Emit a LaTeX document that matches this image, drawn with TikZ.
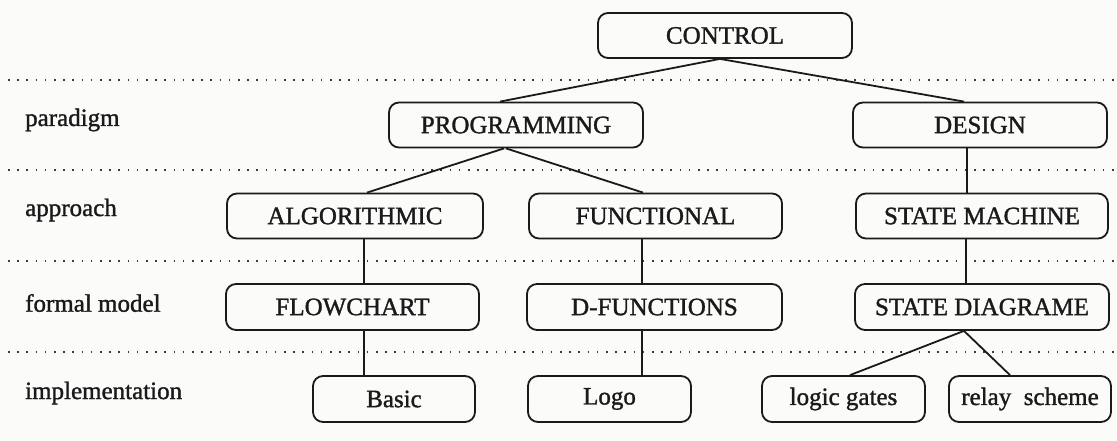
\documentclass[tikz,border=0pt]{standalone}
\usepackage{fontspec}
\setmainfont{Liberation Serif}
\newfontfamily\inkfont{Liberation Serif}[FakeBold=1.3]
\usetikzlibrary{calc}
\definecolor{ink}{HTML}{1A1A1A}
\definecolor{paper}{HTML}{FBFBFA}
\definecolor{dots}{HTML}{3A3A3A}
\tikzset{
  box/.style={draw=ink, text=ink, rounded corners=10pt, line width=1.8pt,
    minimum height=45pt, inner sep=0pt, font=\inkfont\fontsize{25}{30}\selectfont},
  link/.style={draw=ink, line width=1.8pt},
  level/.style={anchor=west, text=ink, inner sep=0pt, font=\inkfont\fontsize{25}{30}\selectfont},
  divider/.style={draw=dots, line width=1.6pt, dash pattern=on 1.6pt off 7.6pt}
}
\begin{document}
\begin{tikzpicture}[x=1pt,y=-1pt]
  \fill[paper] (0,0) rectangle (1117,441);
  \useasboundingbox (0,0) rectangle (1117,441);

  % dotted row separators
  \foreach \yy in {80,170,261,352}
    \draw[divider] (8,\yy) -- (1117,\yy);

  % level names
  \node[level] (lparadigm) at (25,120) {paradigm};
  \node[level] (lapproach) at (25,210) {approach};
  \node[level] (lformal)   at (25,303) {formal model};
  \node[level] (limpl)     at (25,393) {implementation};

  % tree nodes
  \node[box, minimum width=254pt] (control) at (725,35.5) {CONTROL};

  \node[box, minimum width=254pt] (prog)   at (516,125)   {PROGRAMMING};
  \node[box, minimum width=254pt] (design) at (980,125)   {DESIGN};

  \node[box, minimum width=256pt] (algo)   at (355,216) {ALGORITHMIC};
  \node[box, minimum width=253pt] (func)   at (655.5,216) {FUNCTIONAL};
  \node[box, minimum width=252pt] (sm)     at (982,216) {STATE MACHINE};

  \node[box, minimum width=253pt, minimum height=46pt] (flow) at (352.5,307) {FLOWCHART};
  \node[box, minimum width=255pt, minimum height=46pt] (dfun) at (654.5,307) {D-FUNCTIONS};
  \node[box, minimum width=254pt, minimum height=46pt] (sd)   at (982,307)   {STATE DIAGRAME};

  \node[box, minimum width=162pt, minimum height=46pt] (basic)  at (394,399)   {Basic};
  \node[box, minimum width=163pt, minimum height=46pt] (logo)   at (609.5,399) {Logo};
  \node[box, minimum width=163pt, minimum height=46pt] (gates)  at (843.5,399) {logic gates};
  \node[box, minimum width=162pt, minimum height=46pt] (relay)  at (1030,399)  {relay\ \ scheme};

  % connectors
  \draw[link] ($(control.south)+(-5,0)$) -- ($(prog.north)+(-16,0)$);
  \draw[link] ($(control.south)+(-5,0)$) -- ($(design.north)+(-16,0)$);

  \draw[link] ($(prog.south)+(-12,0)$) -- ($(algo.north)+(12,0)$);
  \draw[link] ($(prog.south)+(-10,0)$) -- ($(func.north)+(-12.5,0)$);
  \draw[link] ($(design.south)+(-13,0)$) -- ($(sm.north)+(-15,0)$);

  \draw[link] ($(algo.south)+(9,0)$) -- ($(flow.north)+(11.5,0)$);
  \draw[link] ($(flow.south)+(11.5,0)$) -- ($(basic.north)+(-30,0)$);

  \draw[link] ($(func.south)+(-13.5,0)$) -- ($(dfun.north)+(-12.5,0)$);
  \draw[link] ($(dfun.south)+(-12.5,0)$) -- ($(logo.north)+(32.5,0)$);

  \draw[link] ($(sm.south)+(-16,0)$) -- ($(sd.north)+(-16,0)$);
  \draw[link] ($(sd.south)+(-18,0)$) -- ($(gates.north)+(6.5,0)$);
  \draw[link] ($(sd.south)+(-18,0)$) -- ($(relay.north)+(-20,0)$);
\end{tikzpicture}
\end{document}
